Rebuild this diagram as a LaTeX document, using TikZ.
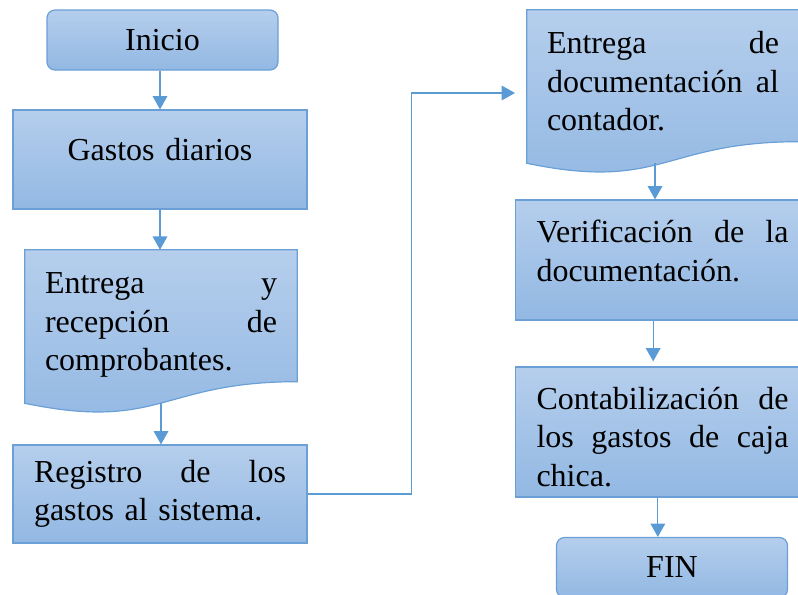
\documentclass[tikz,border=0pt]{standalone}
\usepackage{fontspec}
\setmainfont{Liberation Serif}
\usetikzlibrary{arrows.meta,backgrounds,calc}
\definecolor{boxtop}{RGB}{181,206,236}
\definecolor{boxbot}{RGB}{146,184,227}
\definecolor{boxline}{RGB}{106,160,214}
\definecolor{flecha}{RGB}{91,155,213}
\tikzset{
  bloque/.style={draw=boxline, top color=boxtop, bottom color=boxbot, line width=0.9pt},
  term/.style={bloque, rounded corners=6pt, minimum width=173.25pt, minimum height=45pt},
  proceso/.style={bloque, text width=189pt, inner xsep=15.75pt, inner ysep=0pt, align=left},
  docu/.style={text width=174pt, inner xsep=15pt, inner ysep=0pt, align=left, minimum height=114.75pt},
  hoja/.style={draw=boxline, top color=boxtop, bottom color=boxbot, line width=0.9pt},
  flujo/.style={draw=flecha, line width=0.9pt, -{Triangle[length=10pt,width=11pt]}}
}
\begin{document}
\begin{tikzpicture}[x=0.75pt,y=-0.75pt, font=\fontsize{24}{29}\selectfont]
\path[use as bounding box, clip] (0,0) rectangle (798,594);
% columna izquierda
\node[term] (inicio) at (162.5,40) {Inicio};
\node[proceso, align=center, minimum height=74.25pt] (gastos) at (160,159.5) {Gastos diarios\rule[-15pt]{0pt}{0pt}};
\node[docu] (recibo) at (161,326.5) {Entrega \hfill y\\ recepción \hfill de\\ comprobantes.\rule[-7pt]{0pt}{0pt}};
\node[proceso, minimum height=73.5pt] (registro) at (160,494) {Registro \hfill de \hfill los\\ gastos al sistema.};
% columna derecha
\node[docu] (contador) at (663,86.5) {Entrega \hfill de\\ documentación \hfill al\\ contador.\rule[-8.25pt]{0pt}{0pt}};
\node[proceso, minimum height=90pt] (verif) at (662.5,260) {Verificación \hfill de \hfill la\\ documentación.\rule[-13.5pt]{0pt}{0pt}};
\node[proceso, minimum height=97.5pt] (contab) at (662.5,432) {\rule{0pt}{24pt}Contabilización \hfill de\\ los \hfill gastos \hfill de \hfill caja\\ chica.};
\node[term] (fin) at (672,567.5) {FIN};
\coordinate (entrada) at (515,93);
% hojas (documento)
\begin{scope}[on background layer]
\path[hoja] (recibo.north west) -- (recibo.north east) -- ($(recibo.south east)+(0,-21.6)$)
  .. controls ($(recibo.south)+(0,-21.6)$) and ($(recibo.south)+(0,28.3)$) .. (recibo.south west) -- cycle;
\path[hoja] (contador.north west) -- (contador.north east) -- ($(contador.south east)+(0,-21.6)$)
  .. controls ($(contador.south)+(0,-21.6)$) and ($(contador.south)+(0,28.3)$) .. (contador.south west) -- cycle;
\end{scope}
% flechas
\draw[flujo] (gastos.north |- inicio.south) -- (gastos.north);
\draw[flujo] (gastos.south) -- (gastos.south |- recibo.north);
\draw[flujo] (recibo.south) -- (recibo.south |- registro.north);
\draw[flujo] (registro.east) -- ++(104,0) |- (entrada);
\draw[flujo] ([xshift=-6pt]contador.south) -- ([xshift=-6pt]contador.south |- verif.north);
\draw[flujo, shorten >=3.75pt] ([xshift=-7pt]verif.south) -- ([xshift=-7pt]verif.south |- contab.north);
\draw[flujo] ([xshift=-3.5pt]contab.south) -- ([xshift=-3.5pt]contab.south |- fin.north);
\end{tikzpicture}
\end{document}
